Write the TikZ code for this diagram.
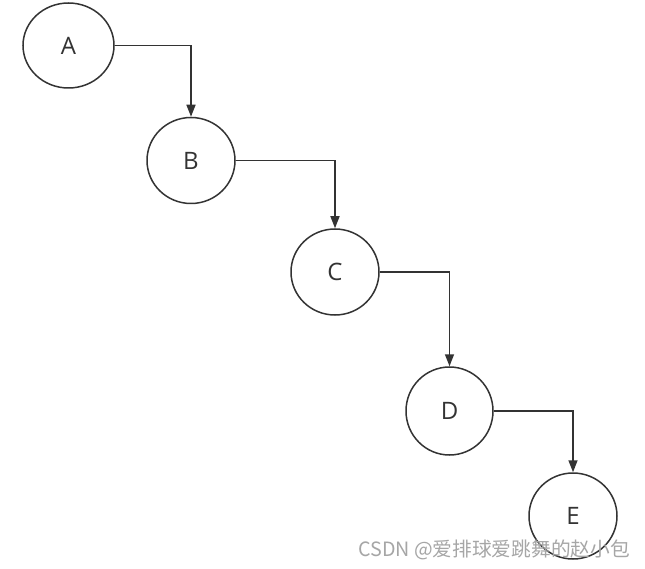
\documentclass[tikz,border=0pt]{standalone}
\usepackage{fontspec}
\setmainfont{Open Sans}
\newfontfamily\cjk{Noto Sans CJK SC}
\usetikzlibrary{arrows.meta,shapes.geometric}
\definecolor{ink}{HTML}{333333}
\begin{document}
\begin{tikzpicture}[x=1pt,y=-1pt,
  nodecircle/.style={draw=ink,line width=1.5pt,ellipse,minimum width=88pt,minimum height=86pt,inner sep=0pt,font=\fontsize{24}{28}\selectfont,text=ink},
  link/.style={draw=ink,line width=1.5pt,-{Triangle[length=12pt,width=9pt]}}]
\useasboundingbox (0,0) rectangle (645,569);
\path[fill=white] (0,0) rectangle (645,569);
\node[nodecircle,minimum width=91pt,minimum height=85pt] (A) at (68.5,45.5) {A};
\node[nodecircle] (B) at (191,160.5) {B};
\node[nodecircle] (C) at (335,272) {C};
\node[nodecircle,minimum width=87pt,minimum height=88pt] (D) at (449.5,411) {D};
\node[nodecircle,minimum width=88pt,minimum height=86pt] (E) at (573,516) {E};
\draw[link] (A.east) -| (B.north);
\draw[link] (B.east) -| (C.north);
\draw[link] (C.east) -| (D.north);
\draw[link] (D.east) -| (E.north);
\node[anchor=west,inner sep=0pt,text=gray!70,font=\cjk\fontsize{19.7}{22}\selectfont] (wm) at (358,550) {CSDN @爱排球爱跳舞的赵小包};
\end{tikzpicture}
\end{document}
